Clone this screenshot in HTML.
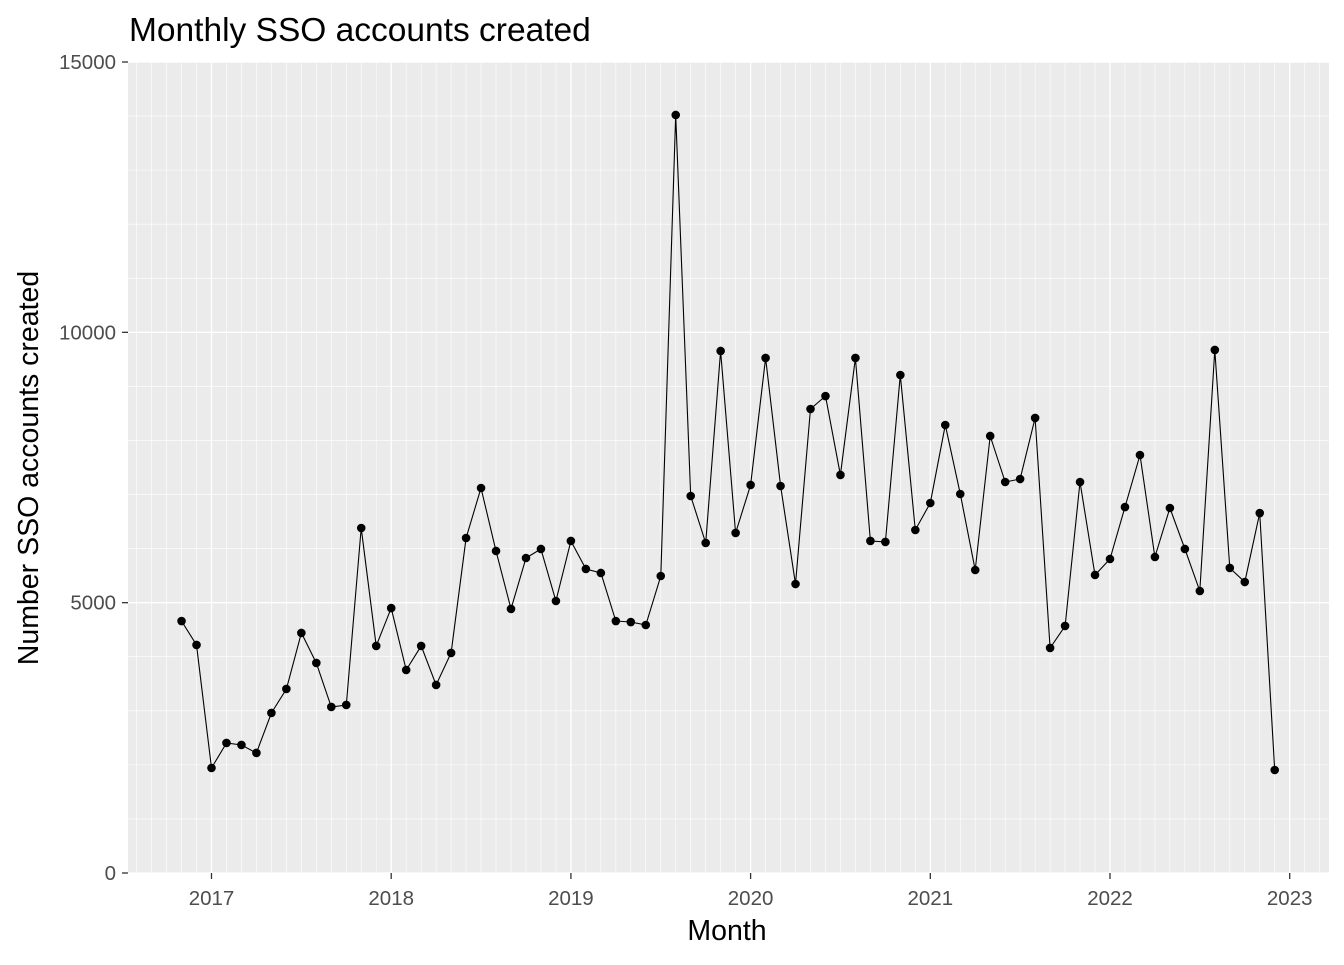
<!DOCTYPE html>
<html><head><meta charset="utf-8"><style>
body{margin:0;background:#fff;}
svg text{font-family:"Liberation Sans",Arial,sans-serif;}
</style></head><body>
<svg width="1344" height="960" xmlns="http://www.w3.org/2000/svg">
<text x="129" y="41" font-size="33.5" fill="#000">Monthly SSO accounts created</text>
<rect x="128" y="62" width="1201" height="811" fill="#ebebeb"/>
<g id="grid"></g>
<g id="axes"></g>
<path id="line" fill="none" stroke="#000" stroke-width="1.1"/>
<g id="pts"></g>
<text x="727" y="940" font-size="28.5" text-anchor="middle">Month</text>
<text transform="translate(38,468) rotate(-90)" font-size="28.5" text-anchor="middle">Number SSO accounts created</text>
</svg>
<script>
const startYear=2016, startMonth=11;
const values=[4660,4218,1942,2405,2368,2220,2960,3404,4440,3885,3071,3108,6381,4200,
4900,3755,4200,3478,4070,6196,7121,5956,4884,5826,5993,5031,
6141,5623,5549,4660,4642,4587,5493,14020,6973,6104,9655,6289,
7177,9526,7158,5345,8582,8822,7362,9526,6141,6123,9211,6344,
6843,8286,7010,5604,8083,7232,7287,8416,4162,4569,7232,5512,
5808,6769,7731,5845,6751,5993,5216,9674,5642,5382,6658,1905];
const yTicks=[0,5000,10000,15000];
const xTicks=[2017,2018,2019,2020,2021,2022,2023];
const NS="http://www.w3.org/2000/svg";
const L=128,R=1329,T=62,B=873;
const xs=t=>211.5+(t-2017)*179.7;
const ys=v=>B-(v/15000)*(B-T);
function mk(tag,attrs,parent){const e=document.createElementNS(NS,tag);for(const k in attrs)e.setAttribute(k,attrs[k]);parent.appendChild(e);return e;}
const grid=document.getElementById('grid'),axes=document.getElementById('axes');
for(let v=1000;v<15000;v+=1000){if(v%5000===0)continue;
const l=mk('line',{x1:L,x2:R,y1:ys(v),y2:ys(v),stroke:'#fff','stroke-width':0.6},grid);

}
for(let m=-6;m<=76;m++){const x=xs(2017+m/12);if(x<L||x>R||m%12===0)continue;
const l=mk('line',{x1:x,x2:x,y1:T,y2:B,stroke:'#fff','stroke-width':0.6},grid);

}
yTicks.forEach(v=>{const y=ys(v);
const g=mk('line',{x1:L,x2:R,y1:y,y2:y,stroke:'#fff','stroke-width':1.3},grid);


const t=mk('line',{x1:L-6,x2:L,y1:y,y2:y,stroke:'#333','stroke-width':1.3},axes);


const tx=mk('text',{x:L-12,y:y+7,'font-size':20.5,'text-anchor':'end',fill:'#4d4d4d'},axes);tx.textContent=v;

});
xTicks.forEach(yr=>{const x=xs(yr);
const g=mk('line',{x1:x,x2:x,y1:T,y2:B,stroke:'#fff','stroke-width':1.3},grid);


const t=mk('line',{x1:x,x2:x,y1:B,y2:B+6,stroke:'#333','stroke-width':1.3},axes);


const tx=mk('text',{x:x,y:B+32,'font-size':20.5,'text-anchor':'middle',fill:'#4d4d4d'},axes);tx.textContent=yr;

});
let d='';const pts=document.getElementById('pts');
values.forEach((v,i)=>{const t=startYear+(startMonth-1+i)/12;const x=xs(t),y=ys(v);
d+=(i?'L':'M')+x.toFixed(1)+','+y.toFixed(1);
const c=mk('circle',{cx:x,cy:y,r:4.3,fill:'#000'},pts);

});
document.getElementById('line').setAttribute('d',d);
</script>
</body></html>
